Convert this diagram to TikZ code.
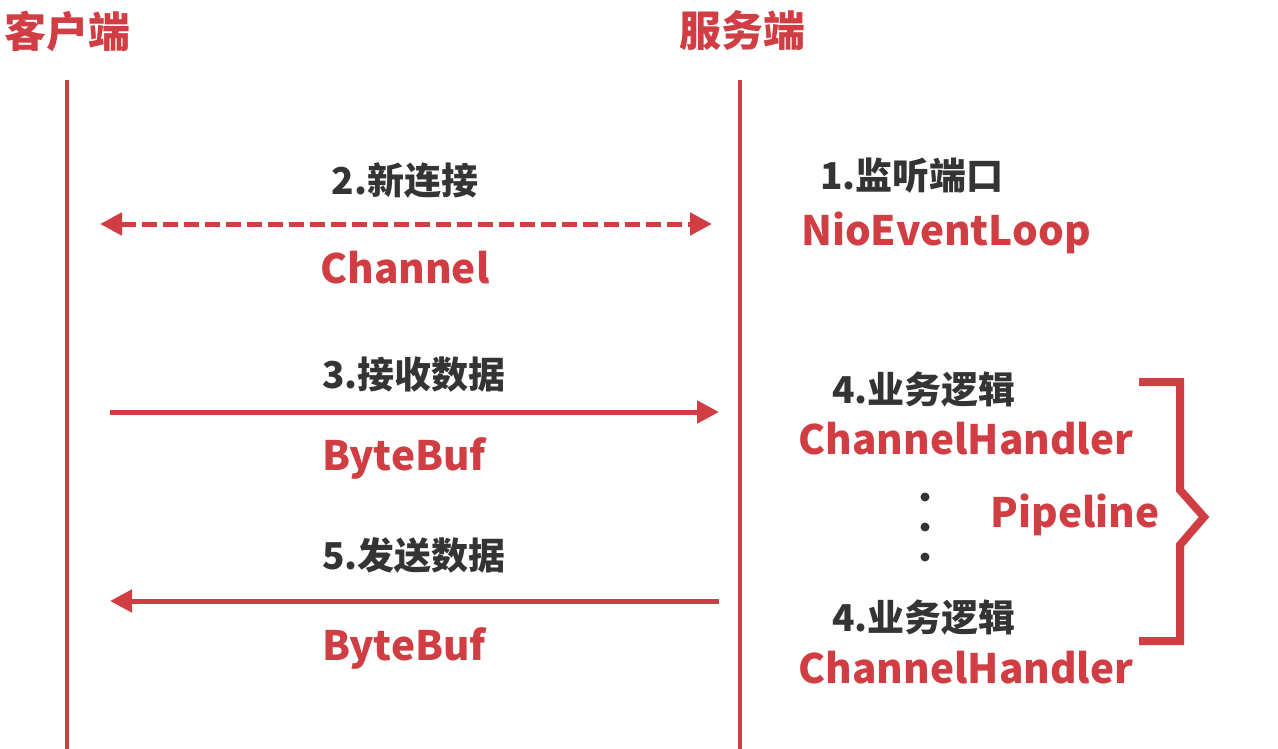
\documentclass[tikz,border=0pt]{standalone}
\usepackage{fontspec}
\setmainfont{Noto Sans CJK SC}
\usetikzlibrary{arrows.meta}

\definecolor{rood}{RGB}{208,62,68}
\definecolor{donker}{RGB}{52,52,52}

\tikzset{
    kop/.style={font=\bfseries\fontsize{42}{42}\selectfont, text=rood, inner sep=0pt},
    stap/.style={font=\bfseries\fontsize{37}{37}\selectfont, text=donker, inner sep=0pt},
    klasse/.style={font=\bfseries\fontsize{40.5}{40.5}\selectfont, text=rood, inner sep=0pt},
    tijdlijn/.style={rood, line width=4pt},
    pijl/.style={rood, line width=5pt, -{Triangle[length=22pt,width=22pt]}},
    dubbelpijl/.style={rood, line width=5pt, dash pattern=on 15pt off 6pt,
        {Triangle[length=22pt,width=22pt]}-{Triangle[length=22pt,width=22pt]}},
}

\begin{document}
\begin{tikzpicture}[x=1pt, y=-1pt]
    \useasboundingbox (0,0) rectangle (1278,749);

    % Koppen boven de twee tijdlijnen
    \node[kop] (klant) at (68,31) {客户端};
    \node[kop] (server) at (742,31) {服务端};

    % Tijdlijnen
    \coordinate (klantboven) at (67,80);
    \coordinate (klantonder) at (67,749);
    \coordinate (serverboven) at (740,80);
    \coordinate (serveronder) at (740,749);
    \draw[tijdlijn] (klantboven) -- (klantonder);
    \draw[tijdlijn] (serverboven) -- (serveronder);

    % Stap 2: nieuwe verbinding
    \node[stap] (nieuw) at (405,181) {2.新连接};
    \coordinate (nieuwlinks) at (100,224);
    \coordinate (nieuwrechts) at (712,224);
    \draw[dubbelpijl] (nieuwlinks) -- (nieuwrechts);
    \node[klasse] (channel) at (405,268) {Channel};

    % Stap 1: poort luisteren
    \node[stap] (luister) at (912,176) {1.监听端口};
    \node[klasse] (loop) at (946,233) {NioEventLoop};

    % Stap 3: data ontvangen
    \node[stap] (ontvang) at (414,375) {3.接收数据};
    \coordinate (ontvanglinks) at (110,412);
    \coordinate (ontvangrechts) at (719,412);
    \draw[pijl] (ontvanglinks) -- (ontvangrechts);
    \node[klasse] (buf1) at (404,458) {ByteBuf};

    % Stap 5: data versturen
    \node[stap] (verstuur) at (414,555) {5.发送数据};
    \coordinate (verstuurrechts) at (719,601);
    \coordinate (verstuurlinks) at (110,601);
    \draw[pijl] (verstuurrechts) -- (verstuurlinks);
    \node[klasse] (buf2) at (404,648) {ByteBuf};

    % Handlers in de pipeline
    \node[stap] (logica1) at (924,390) {4.业务逻辑};
    \node[klasse] (handler1) at (966,439) {ChannelHandler};
    \node[stap] (logica2) at (924,618) {4.业务逻辑};
    \node[klasse] (handler2) at (966,668) {ChannelHandler};
    \foreach \y in {497,527,557}
        \fill[donker] (925,\y) circle (4.5pt);
    \node[klasse] (pipeline) at (1075,515) {Pipeline};

    % Accolade rond de pipeline
    \draw[rood, line width=8pt, line join=miter]
        (1139,382) -- (1180,382) -- (1180,490) -- (1204,517)
        -- (1180,545) -- (1180,641) -- (1139,641);
\end{tikzpicture}
\end{document}
